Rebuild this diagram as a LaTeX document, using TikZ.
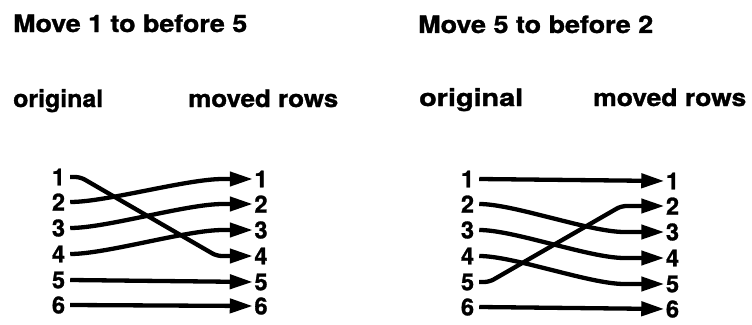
\documentclass[tikz,border=0pt]{standalone}
\usepackage{fontspec}
\setmainfont{TeX Gyre Heros}[BoldFeatures={FakeBold=1.2}]
\usepackage{graphicx}
\usetikzlibrary{arrows.meta}
\newcommand{\fitto}[2]{\resizebox{#1}{\height}{#2}}
\begin{document}
\begin{tikzpicture}[x=1pt,y=-1pt,
  lbl/.style={font=\fontsize{24}{28}\selectfont\bfseries, inner sep=0pt, anchor=base west},
  num/.style={font=\fontsize{23.5}{26}\selectfont\bfseries, inner ysep=0pt},
  numL/.style={num, inner xsep=5pt},
  numR/.style={num, inner xsep=1.5pt},
  wire/.style={line width=4.3pt, -{Triangle[length=23pt,width=14pt]}},
  ]
\useasboundingbox (0,0) rectangle (752,324);

\node[lbl] (t1) at (13,32) {\fitto{234pt}{Move 1 to before 5}};
\node[lbl] (o1) at (13,107) {\fitto{90pt}{original}};
\node[lbl] (m1) at (188,107) {\fitto{150pt}{moved rows}};
\node[lbl] (t2) at (418,33) {\fitto{235pt}{Move 5 to before 2}};
\node[lbl] (o2) at (419,106) {\fitto{104pt}{original}};
\node[lbl] (m2) at (593,106) {\fitto{153pt}{moved rows}};

\foreach \i/\y in {1/177,2/202,3/228,4/254,5/280,6/305}
  \node[numL] (a\i) at (58.5,\y) {\i};
\foreach \i/\y in {1/179,2/204,3/230,4/256,5/282,6/306}
  \node[numR] (b\i) at (261,\y) {\i};
\foreach \i/\y in {1/179,2/204,3/230,4/256,5/282,6/307}
  \node[numL] (c\i) at (467.5,\y) {\i};
\foreach \i/\y in {1/181,2/206,3/232,4/258,5/284,6/309}
  \node[numR] (d\i) at (672.5,\y) {\i};

% left panel: move 1 to before 5
\draw[wire, rounded corners=5pt] (a1.east) -- ++(10,0) -- ([xshift=-36pt]b4.west) -- (b4.west);
\draw[wire] (a2.east) to[out=0,in=180,looseness=0.6] ([xshift=-30pt]b1.west) -- (b1.west);
\draw[wire] (a3.east) to[out=0,in=180,looseness=0.6] ([xshift=-30pt]b2.west) -- (b2.west);
\draw[wire] (a4.east) to[out=0,in=180,looseness=0.6] ([xshift=-30pt]b3.west) -- (b3.west);
\draw[wire] (a5.east) -- (b5.west);
\draw[wire] (a6.east) -- (b6.west);

% right panel: move 5 to before 2
\draw[wire] (c1.east) -- (d1.west);
\draw[wire] (c2.east) to[out=0,in=180,looseness=0.6] ([xshift=-40pt]d3.west) -- (d3.west);
\draw[wire] (c3.east) to[out=0,in=180,looseness=0.6] ([xshift=-40pt]d4.west) -- (d4.west);
\draw[wire] (c4.east) to[out=0,in=180,looseness=0.6] ([xshift=-40pt]d5.west) -- (d5.west);
\draw[wire, rounded corners=5pt] (c5.east) -- ++(10,0) -- ([xshift=-43pt]d2.west) -- (d2.west);
\draw[wire] (c6.east) -- (d6.west);
\end{tikzpicture}
\end{document}
